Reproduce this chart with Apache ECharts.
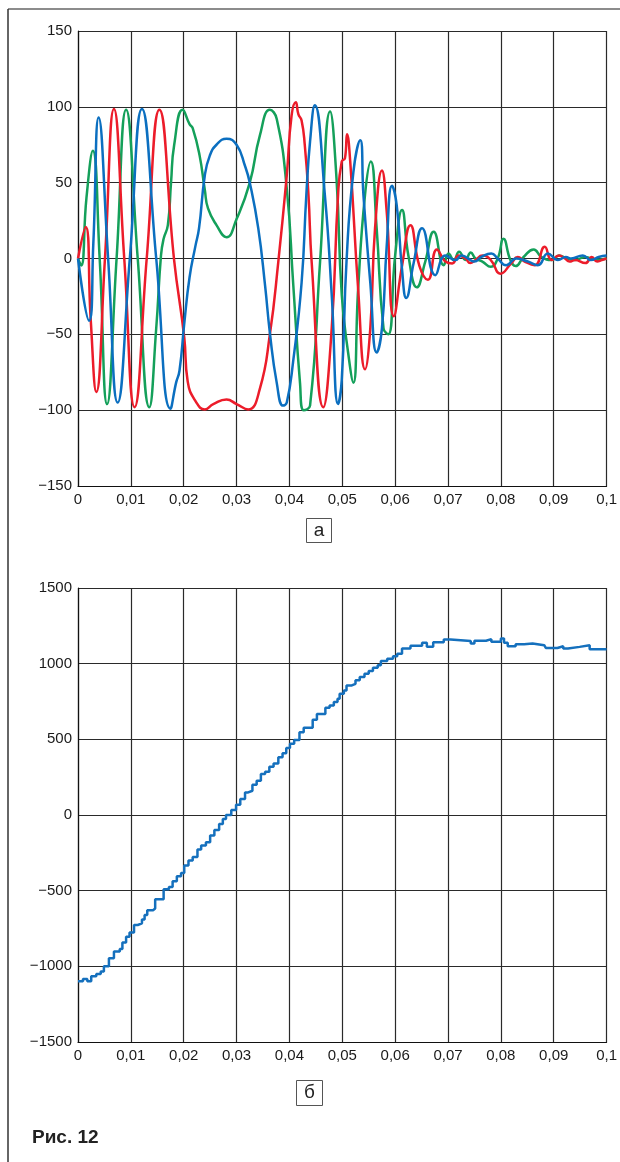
<!DOCTYPE html>
<html>
<head>
<meta charset="utf-8">
<script src="https://cdn.jsdelivr.net/npm/echarts@6/dist/echarts.min.js"></script>
<style>
html,body{margin:0;padding:0;background:#fff;}
#chart{width:620px;height:1162px;}
</style>
</head>
<body>
<div id="chart"></div>
<script>
// time in ms (axis labelled in seconds)
const xTickLabels = ['0','0,01','0,02','0,03','0,04','0,05','0,06','0,07','0,08','0,09','0,1'];
const yTopLabels = {'-150':'\u2212150','-100':'\u2212100','-50':'\u221250','0':'0','50':'50','100':'100','150':'150'};
const yBotLabels = {'-1500':'\u22121500','-1000':'\u22121000','-500':'\u2212500','0':'0','500':'500','1000':'1000','1500':'1500'};

const redT = [0,1.45,2.4,3.46,5.1,6.8,8.75,10.7,13.0,15.4,18.2,20.1,20.75,22.4,24,25.6,28.1,30,32.2,34.4,36.3,37.9,39.5,40.4,41.2,41.7,42.3,42.9,43.6,44.2,46.4,48,49.2,49.9,50.5,50.9,51.5,53,54.3,55.3,56.2,57.5,58.4,59.75,61.3,62.9,64.6,66.2,67.9,69.5,70.8,72.0,73.3,74.2,75.2,76.5,78.1,79.9,82,83.2,84.5,86.4,88.3,89.6,91,92.1,93,94,96,97.2,98.2,99.1,100];
const redV = [0,20.7,-40,-88,0,98.5,0,-98,0,98,-1.5,-52,-81,-95,-99.5,-96,-93,-96,-99.5,-86,-50,-2,55,94,103,95,91,75,42,-2,-98,-46,42,64,66,82,64,-20,-73,-46,20,58,31,-38,-5,22,-5,-14,6,-2,-3.3,2,0,-3,-1,2,-1,-10,-3,1,-2,-4.4,7.7,-1,2,0,-2,-1,-3,1,-2,-1,0];

const greenT = [0,0.6,1.6,2.8,4.1,5.5,7.3,9.1,11.3,13.5,14.8,15.7,16.2,17.0,17.6,18.2,19.8,21.1,21.7,23.0,24.0,24.6,26.2,28.1,30,32.5,34.4,36.3,37.6,39.5,40.7,42.0,42.7,43.9,45.8,47.7,48.9,49.9,51.1,52.1,53,54.3,55.4,56.5,57.8,58.7,60,61.3,62.5,64.1,65.7,67.3,69.2,70.1,71.1,72.1,73.3,74.3,75.2,76.5,78.1,79.4,80.5,81.8,82.8,84.3,86.2,87.7,89.6,91,92.5,94,96,98,100];
const greenV = [0,-4.6,40,71,0,-96,0,98,0,-98,-46,2,13,22,50,75,98,88.6,86,68,45,33,22,14,26,50,81,98,92,46,-16,-82,-100,-97,-2,97,53,-24,-62,-82,-20,42,64,20,-46,-50,2,32,2,-19,-2,17.6,-4.4,3.3,-1,4.4,-1,4,0,-2,-5.5,0,13,-1,-5,1,6,1,-1,2,0,-1,1,-1,0];

const blueT = [0,2.1,2.9,3.9,5.7,7.5,9.8,12.1,14.8,17.5,18.55,19.2,20.1,21.1,22.2,22.9,24,24.95,26.2,28.1,30,31.6,32.5,34.1,35.4,36.3,37.6,38.8,39.5,40.7,42.3,43.2,43.9,44.8,46.7,48,49.2,49.9,50.8,52.1,53.4,54,55.3,56.5,57.5,58.4,59.4,60.3,61.3,62.1,63.5,65.1,67.6,69.5,71.4,72.6,73.8,75,76.3,78.2,79.4,81,82.9,85.1,87,88.9,90.8,92.3,93.3,95.5,97,98.5,100];
const blueV = [0,-41,10,93,0,-95,0,98.5,0,-99,-82,-74,-43,-12.5,8,20,55,68,75,79,75,61,50,20,-18,-49,-82,-97,-95,-68,-16,42,77,101,42,-24,-96,-80,-2,57,78,42,-16,-62,-46,8,48,35,-7,-26,-3,20,-11,2,-1,2,0,-2,1,3.3,0,-4.4,0,-2,-4.4,3.3,-1,1,0,2,-1,1,2];

const stepT = [0,0.94,1.76,2.5,3.46,4.3,4.9,5.85,6.8,7.9,8.4,9.1,9.75,10.6,11.3,12.1,12.6,13.1,14.2,14.6,16.2,17.2,17.9,18.7,19.5,20.1,20.9,21.7,22.6,23.3,24.2,25,25.8,26.7,27.4,28,29,29.9,30.7,31.6,32.2,33,33.8,34.6,35.4,36.2,37,37.9,38.7,39.4,40.1,40.9,41.9,42.7,44.4,45.2,46.8,47.6,48.4,49.1,49.5,50.3,50.8,51.8,52.5,53.3,54.2,55,55.8,56.7,57.3,58.5,59.6,60.4,61.3,62.9,65.1,66,67.2,69.2,70.5,74.3,75,77.2,78.2,80,80.6,81.3,82.8,84.4,86,88.2,88.5,90.7,91.8,92.7,94.9,96.8,100];
const stepV = [-1099,-1084,-1099,-1066,-1051,-1034,-1000,-946,-902,-885,-843,-804,-777,-727,-716,-690,-661,-629,-618,-556,-490,-475,-438,-405,-383,-333,-300,-278,-228,-201,-180,-136,-99,-59,-26,0,33,68,105,149,160,200,226,271,286,319,341,381,408,443,470,496,547,576,629,668,708,724,746,768,801,823,856,867,890,912,934,951,973,989,1018,1033,1049,1066,1100,1118,1138,1111,1142,1160,1149,1133,1151,1162,1144,1167,1138,1115,1129,1133,1122,1133,1104,1115,1100,1111,1122,1095,1095];

const zip = (t, v) => t.map((x, i) => [x, v[i]]);

const FONT = 'Liberation Sans';
const gridColor = '#2a2a2a';

function xAxisCfg(gi) {
  return {
    type: 'value', gridIndex: gi, min: 0, max: 100, interval: 10,
    axisLine: { show: true, onZero: false, lineStyle: { color: '#111', width: 1.2 } },
    axisTick: { show: false },
    splitLine: { show: true, lineStyle: { color: gridColor, width: 1.2 } },
    axisLabel: { margin: 6, color: '#1a1a1a', fontFamily: FONT, fontSize: 15,
      formatter: v => xTickLabels[Math.round(v / 10)], showMaxLabel: true, showMinLabel: true }
  };
}
function yAxisCfg(gi, min, max, step, labels) {
  return {
    type: 'value', gridIndex: gi, min: min, max: max, interval: step,
    axisLine: { show: true, onZero: false, lineStyle: { color: '#111', width: 1.2 } },
    axisTick: { show: false },
    splitLine: { show: true, lineStyle: { color: gridColor, width: 1.2 } },
    axisLabel: { margin: 6, color: '#1a1a1a', fontFamily: FONT, fontSize: 15,
      formatter: v => labels[String(Math.round(v))] }
  };
}

const chart = echarts.init(document.getElementById('chart'), null, { renderer: 'canvas' });
chart.setOption({
  animation: false,
  backgroundColor: '#fff',
  grid: [
    { left: 78, top: 31, width: 529, height: 455 },
    { left: 78, top: 588, width: 529, height: 454 }
  ],
  xAxis: [xAxisCfg(0), xAxisCfg(1)],
  yAxis: [yAxisCfg(0, -150, 150, 50, yTopLabels), yAxisCfg(1, -1500, 1500, 500, yBotLabels)],
  series: [
    { type: 'line', xAxisIndex: 0, yAxisIndex: 0, data: zip(greenT, greenV), smooth: 0.5, symbol: 'none',
      lineStyle: { color: '#14a05a', width: 2.5 } },
    { type: 'line', xAxisIndex: 0, yAxisIndex: 0, data: zip(redT, redV), smooth: 0.5, symbol: 'none',
      lineStyle: { color: '#ec1c2a', width: 2.5 } },
    { type: 'line', xAxisIndex: 0, yAxisIndex: 0, data: zip(blueT, blueV), smooth: 0.5, symbol: 'none',
      lineStyle: { color: '#0b6fc0', width: 2.5 } },
    { type: 'line', xAxisIndex: 1, yAxisIndex: 1, data: zip(stepT, stepV), step: 'end', symbol: 'none',
      lineStyle: { color: '#1570bd', width: 2.5 } }
  ],
  graphic: [
    { type: 'line', shape: { x1: 8, y1: 9, x2: 620, y2: 9 }, style: { stroke: '#666', lineWidth: 1.5 } },
    { type: 'line', shape: { x1: 8, y1: 9, x2: 8, y2: 1162 }, style: { stroke: '#333', lineWidth: 1.5 } },
    { type: 'rect', shape: { x: 306.5, y: 518.5, width: 25, height: 24 }, style: { fill: '#fff', stroke: '#555', lineWidth: 1 } },
    { type: 'text', x: 319, y: 530.5, style: { text: 'а', font: '19px "Liberation Sans"', fill: '#222', align: 'center', verticalAlign: 'middle' } },
    { type: 'rect', shape: { x: 296.5, y: 1080.5, width: 26, height: 25 }, style: { fill: '#fff', stroke: '#555', lineWidth: 1 } },
    { type: 'text', x: 309.5, y: 1093, style: { text: 'б', font: '19px "Liberation Sans"', fill: '#222', align: 'center', verticalAlign: 'middle' } },
    { type: 'text', x: 32, y: 1138, style: { text: 'Рис. 12', font: 'bold 19px "Liberation Sans"', fill: '#222', align: 'left', verticalAlign: 'middle' } }
  ]
});
</script>
</body>
</html>
